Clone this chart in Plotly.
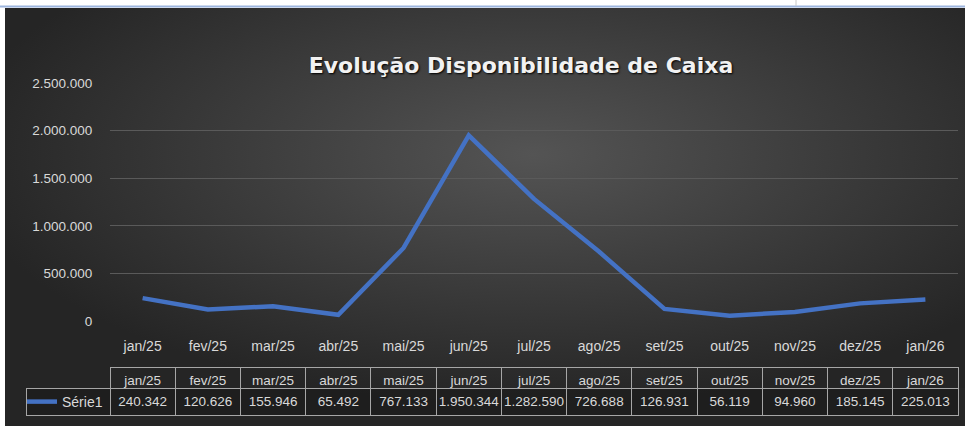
import base64
import plotly.graph_objects as go

# dados do gráfico
MESES = ["jan/25", "fev/25", "mar/25", "abr/25", "mai/25", "jun/25", "jul/25",
         "ago/25", "set/25", "out/25", "nov/25", "dez/25", "jan/26"]
SALDO = [240342, 120626, 155946, 65492, 767133, 1950344, 1282590,
         726688, 126931, 56119, 94960, 185145, 225013]
SERIE = "Série1"
TITULO = "Evolução Disponibilidade de Caixa"

W, H = 965, 426
AZUL = "#4472C4"
CINZA_TXT = "#d9d9d9"
GRADE = "#5a5a5a"
BORDA = "#a6a6a6"
FONTE = "Liberation Sans"


def fmt_br(v: int) -> str:
    return f"{v:,}".replace(",", ".")


def fundo_svg() -> str:
    """Gradiente radial escuro do tema do Excel, como data URI."""
    svg = (
        '<svg xmlns="http://www.w3.org/2000/svg" width="960" height="418" '
        'preserveAspectRatio="none">'
        '<defs><radialGradient id="g" cx="0.55" cy="0.35" r="0.6">'
        '<stop offset="0" stop-color="#545454"/>'
        '<stop offset="1" stop-color="#252525"/>'
        '</radialGradient></defs>'
        '<rect width="960" height="418" fill="url(#g)"/></svg>'
    )
    return "data:image/svg+xml;base64," + base64.b64encode(svg.encode()).decode()


def px_x(p):
    return p / W


def px_y(p):
    return 1 - p / H


fig = go.Figure()

fig.add_trace(go.Scatter(
    x=MESES, y=SALDO, name=SERIE, mode="lines",
    line=dict(color=AZUL, width=4.5, shape="linear"),
    hovertemplate="%{x}: %{y:,d}<extra></extra>",
))

# tabela de dados abaixo do eixo
fig.add_trace(go.Table(
    domain=dict(x=[px_x(26), px_x(958)], y=[px_y(420), px_y(367)]),
    columnwidth=[84] + [65.2] * len(MESES),
    header=dict(
        values=[""] + MESES,
        height=21,
        align="center",
        fill_color="rgba(0,0,0,0)",
        line=dict(color=["rgba(0,0,0,0)"] + [BORDA] * len(MESES), width=1),
        font=dict(family=FONTE, size=13.5, color=CINZA_TXT),
    ),
    cells=dict(
        values=[[""]] + [[fmt_br(v)] for v in SALDO],
        height=27,
        align="center",
        fill_color="rgba(0,0,0,0.18)",
        line=dict(color=BORDA, width=1),
        font=dict(family=FONTE, size=13.5, color=CINZA_TXT),
    ),
))

fig.update_layout(
    width=W, height=H,
    margin=dict(l=0, r=0, t=0, b=0),
    paper_bgcolor="white",
    plot_bgcolor="rgba(0,0,0,0)",
    separators=",.",
    showlegend=True,
    legend=dict(
        x=px_x(22), y=px_y(402), xanchor="left", yanchor="middle",
        bgcolor="rgba(0,0,0,0)", borderwidth=0,
        font=dict(family=FONTE, size=14, color=CINZA_TXT),
    ),
    title=dict(
        text=TITULO,
        x=px_x(521), xanchor="center",
        y=px_y(65), yanchor="middle",
        font=dict(family="DejaVu Sans", size=22, color="#f2f2f2",
                  weight="bold", shadow="1px 1px 2px #000"),
    ),
    images=[dict(
        source=fundo_svg(), xref="paper", yref="paper",
        x=px_x(5), y=px_y(8), sizex=px_x(960), sizey=418 / H,
        xanchor="left", yanchor="top", sizing="stretch", layer="below",
    )],
    shapes=[
        dict(type="line", xref="paper", yref="paper",
             x0=0, x1=1, y0=px_y(6.5), y1=px_y(6.5),
             line=dict(color="#9db5de", width=2)),
        dict(type="line", xref="paper", yref="paper",
             x0=px_x(796), x1=px_x(796), y0=px_y(0), y1=px_y(6),
             line=dict(color="#c8c8c8", width=1)),
    ],
)

fig.update_xaxes(
    domain=[px_x(110), px_x(958)],
    type="category",
    range=[-0.5, len(MESES) - 0.5],
    showgrid=False, zeroline=False, showline=False,
    ticks="outside", ticklen=12, tickcolor="rgba(0,0,0,0)",
    tickfont=dict(family=FONTE, size=14, color=CINZA_TXT),
    automargin=False,
)
fig.update_yaxes(
    domain=[px_y(321), px_y(83)],
    range=[0, 2500000], dtick=500000, tickformat=",d",
    showgrid=True, gridcolor=GRADE, gridwidth=1,
    zeroline=False, showline=False,
    ticks="outside", ticklen=14, tickcolor="rgba(0,0,0,0)",
    tickfont=dict(family=FONTE, size=13.5, color=CINZA_TXT),
    automargin=False,
)

# sem margem do body, para a figura ocupar a janela inteira
fig.write_html(
    "out.html",
    config={"displayModeBar": False},
    post_script="document.body.style.margin='0';document.body.style.overflow='hidden';",
)
